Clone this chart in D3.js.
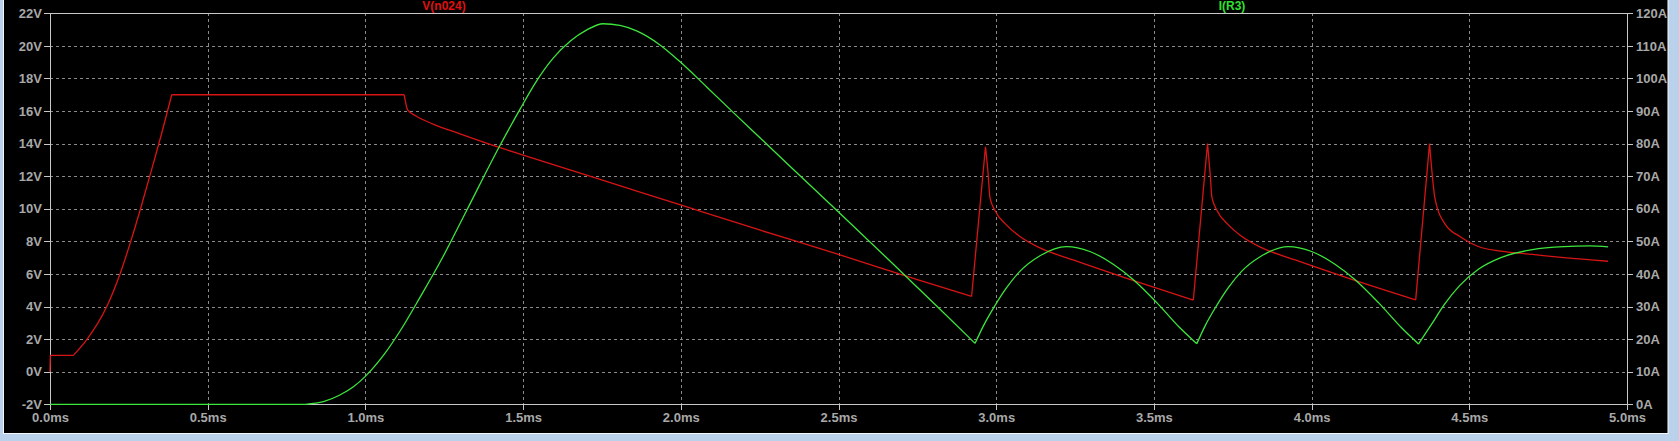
<!DOCTYPE html>
<html>
<head>
<meta charset="utf-8">
<script src="https://cdn.jsdelivr.net/npm/d3@7"></script>
<style>
html,body{margin:0;padding:0;background:#b9d1ea;overflow:hidden;}
svg{display:block;}
</style>
</head>
<body>
<svg id="chart" width="1679" height="441"></svg>
<script>
// ---- data ----
const timeTicks = [0,0.5,1.0,1.5,2.0,2.5,3.0,3.5,4.0,4.5,5.0];
const voltTicks = [-2,0,2,4,6,8,10,12,14,16,18,20,22];
const ampTicks = [0,10,20,30,40,50,60,70,80,90,100,110,120];
const seriesNames = ["V(n024)","I(R3)"];

// V(n024), volts vs ms
const vTime = [0,0.001,0.074,0.116,0.18,0.222,0.256,0.29,0.325,0.355,0.386,1.123,1.134,1.162,1.215,1.3,1.427,1.5,1.744,1.997,2.25,2.5,2.75,2.922,
  2.966,2.975,2.98,2.996,3.033,3.075,3.139,3.244,3.414,3.625,
  3.670,3.679,3.684,3.700,3.737,3.779,3.843,3.948,4.118,4.33,
  4.374,4.383,4.391,4.425,4.47,4.526,4.6,4.7,4.8,4.94];
const vVal = [0,1,1,1.95,4,6,8,10.2,12.6,14.7,17,17,16.07,15.68,15.2,14.6,13.75,13.3,11.8,10.25,8.7,7.2,5.65,4.62,
  13.8,12,10.7,9.9,9.0,8.3,7.6,6.86,5.73,4.4,
  14.0,12,10.7,9.9,9.0,8.3,7.6,6.86,5.73,4.41,
  14.0,12,10.66,9.01,8.3,7.7,7.4,7.2,7.0,6.78];
// times where the V trace has a sharp corner
const vCorners = [0.001,0.074,0.386,1.123,2.922,2.966,3.625,3.670,4.33,4.374];

// I(R3), amps vs ms
const iTime = [0,0.81,0.867,0.919,0.962,0.999,1.057,1.11,1.173,1.236,1.321,1.427,1.49,1.538,1.596,1.649,1.702,1.754,1.807,1.86,1.934,1.997,2.082,2.166,2.251,2.336,2.5,2.65,2.822,2.933,
  2.959,2.996,3.033,3.075,3.139,3.223,3.297,3.371,3.434,3.509,3.583,3.636,
  3.662,3.699,3.736,3.778,3.842,3.926,4.0,4.074,4.137,4.212,4.286,4.339,
  4.38,4.42,4.47,4.53,4.6,4.7,4.8,4.88,4.94];
const iVal = [0,0,0.8,2.85,5.4,8.5,15.0,22.5,32.8,43.5,59.5,79.5,90.5,98.5,106.3,111.4,114.9,116.8,116.3,114.6,110.3,105.2,97.4,89.6,81.8,74.0,59.0,45.2,29.2,18.7,
  24.0,30.3,35.8,40.8,45.6,48.4,46.9,43.0,38.3,31.2,23.4,18.6,
  24.0,30.3,35.8,40.8,45.6,48.4,46.9,43.0,38.3,31.2,23.4,18.5,
  24.5,30.5,36.5,41.5,45.0,47.5,48.4,48.6,48.3];
const iCorners = [0.81,2.933,3.636,4.339];

// ---- layout ----
const svg = d3.select("#chart");
const L = 50, R = 1627, T = 13.3, B = 404.3;
const axisColor = "#c8c8c8", labelColor = "#a8a8a8", gridColor = "#8a8a8a";
const fontFam = "'Liberation Sans', Arial, sans-serif";

// frame
svg.append("rect").attr("x",0).attr("y",0).attr("width",1679).attr("height",441).attr("fill","#b9d1ea");
svg.append("rect").attr("x",3.5).attr("y",-2).attr("width",1664.5).attr("height",435.5).attr("fill","#000").attr("stroke","#f4f8fc").attr("stroke-width",1);

const x = d3.scaleLinear().domain([0,5]).range([L,R]);
const yV = d3.scaleLinear().domain([-2,22]).range([B,T]);
const yI = d3.scaleLinear().domain([0,120]).range([B,T]);

// grid
const grid = svg.append("g").attr("stroke",gridColor).attr("stroke-dasharray","3,3").attr("stroke-width",1).attr("shape-rendering","crispEdges");
grid.selectAll(".hg").data(voltTicks.filter(v=>v>-2 && v<22)).join("line")
  .attr("x1",L).attr("x2",R).attr("y1",d=>Math.round(yV(d))+0.5).attr("y2",d=>Math.round(yV(d))+0.5);
grid.selectAll(".vg").data(timeTicks.filter(t=>t>0 && t<5)).join("line")
  .attr("y1",T).attr("y2",B).attr("x1",d=>Math.round(x(d))+0.5).attr("x2",d=>Math.round(x(d))+0.5);

// axes
function styleAxis(g){
  g.select(".domain").remove();
  g.selectAll(".tick line").attr("stroke",axisColor).attr("shape-rendering","crispEdges");
  g.selectAll(".tick text").attr("fill",labelColor).attr("font-family",fontFam).attr("font-size","13px").attr("font-weight","bold");
}
svg.append("g").attr("transform",`translate(${L},0)`)
  .call(d3.axisLeft(yV).tickValues(voltTicks).tickFormat(d=>d+"V").tickSize(6).tickPadding(2)).call(styleAxis);
svg.append("g").attr("transform",`translate(${R},0)`)
  .call(d3.axisRight(yI).tickValues(ampTicks).tickFormat(d=>d+"A").tickSize(6).tickPadding(3)).call(styleAxis);
svg.append("g").attr("transform",`translate(0,${B})`)
  .call(d3.axisBottom(x).tickValues(timeTicks).tickFormat(d=>d.toFixed(1)+"ms").tickSize(6).tickPadding(2)).call(styleAxis);

// plot border
svg.append("rect").attr("x",L+0.5).attr("y",Math.round(T)+0.5).attr("width",R-L).attr("height",Math.round(B)-Math.round(T))
  .attr("fill","none").attr("stroke",axisColor).attr("stroke-width",1).attr("shape-rendering","crispEdges");

// split a series into smooth pieces joined at sharp corners
function pieces(ts, vs, corners){
  const out = []; let cur = [];
  ts.forEach((t,i)=>{
    cur.push([t,vs[i]]);
    if (corners.some(c=>Math.abs(c-t)<1e-9) && i < ts.length-1){ out.push(cur); cur = [[t,vs[i]]]; }
  });
  if (cur.length>1) out.push(cur);
  return out;
}
const lineV = d3.line().x(d=>x(d[0])).y(d=>yV(d[1])).curve(d3.curveMonotoneX);
const lineI = d3.line().x(d=>x(d[0])).y(d=>yI(d[1])).curve(d3.curveMonotoneX);
const dV = pieces(vTime,vVal,vCorners).map(p=>lineV(p)).join("");
const dI = pieces(iTime,iVal,iCorners).map(p=>lineI(p)).join("");
svg.append("path").attr("d",dV).attr("fill","none").attr("stroke","#d81414").attr("stroke-width",1.3).attr("stroke-linejoin","round");
svg.append("path").attr("d",dI).attr("fill","none").attr("stroke","#3ce63c").attr("stroke-width",1.3).attr("stroke-linejoin","round");

// trace labels
svg.append("text").attr("x",444).attr("y",9.5).attr("text-anchor","middle").attr("fill","#e01010")
  .attr("font-family",fontFam).attr("font-size","12px").attr("font-weight","bold").text(seriesNames[0]);
svg.append("text").attr("x",1232).attr("y",9.5).attr("text-anchor","middle").attr("fill","#30e030")
  .attr("font-family",fontFam).attr("font-size","12px").attr("font-weight","bold").text(seriesNames[1]);
</script>
</body>
</html>
